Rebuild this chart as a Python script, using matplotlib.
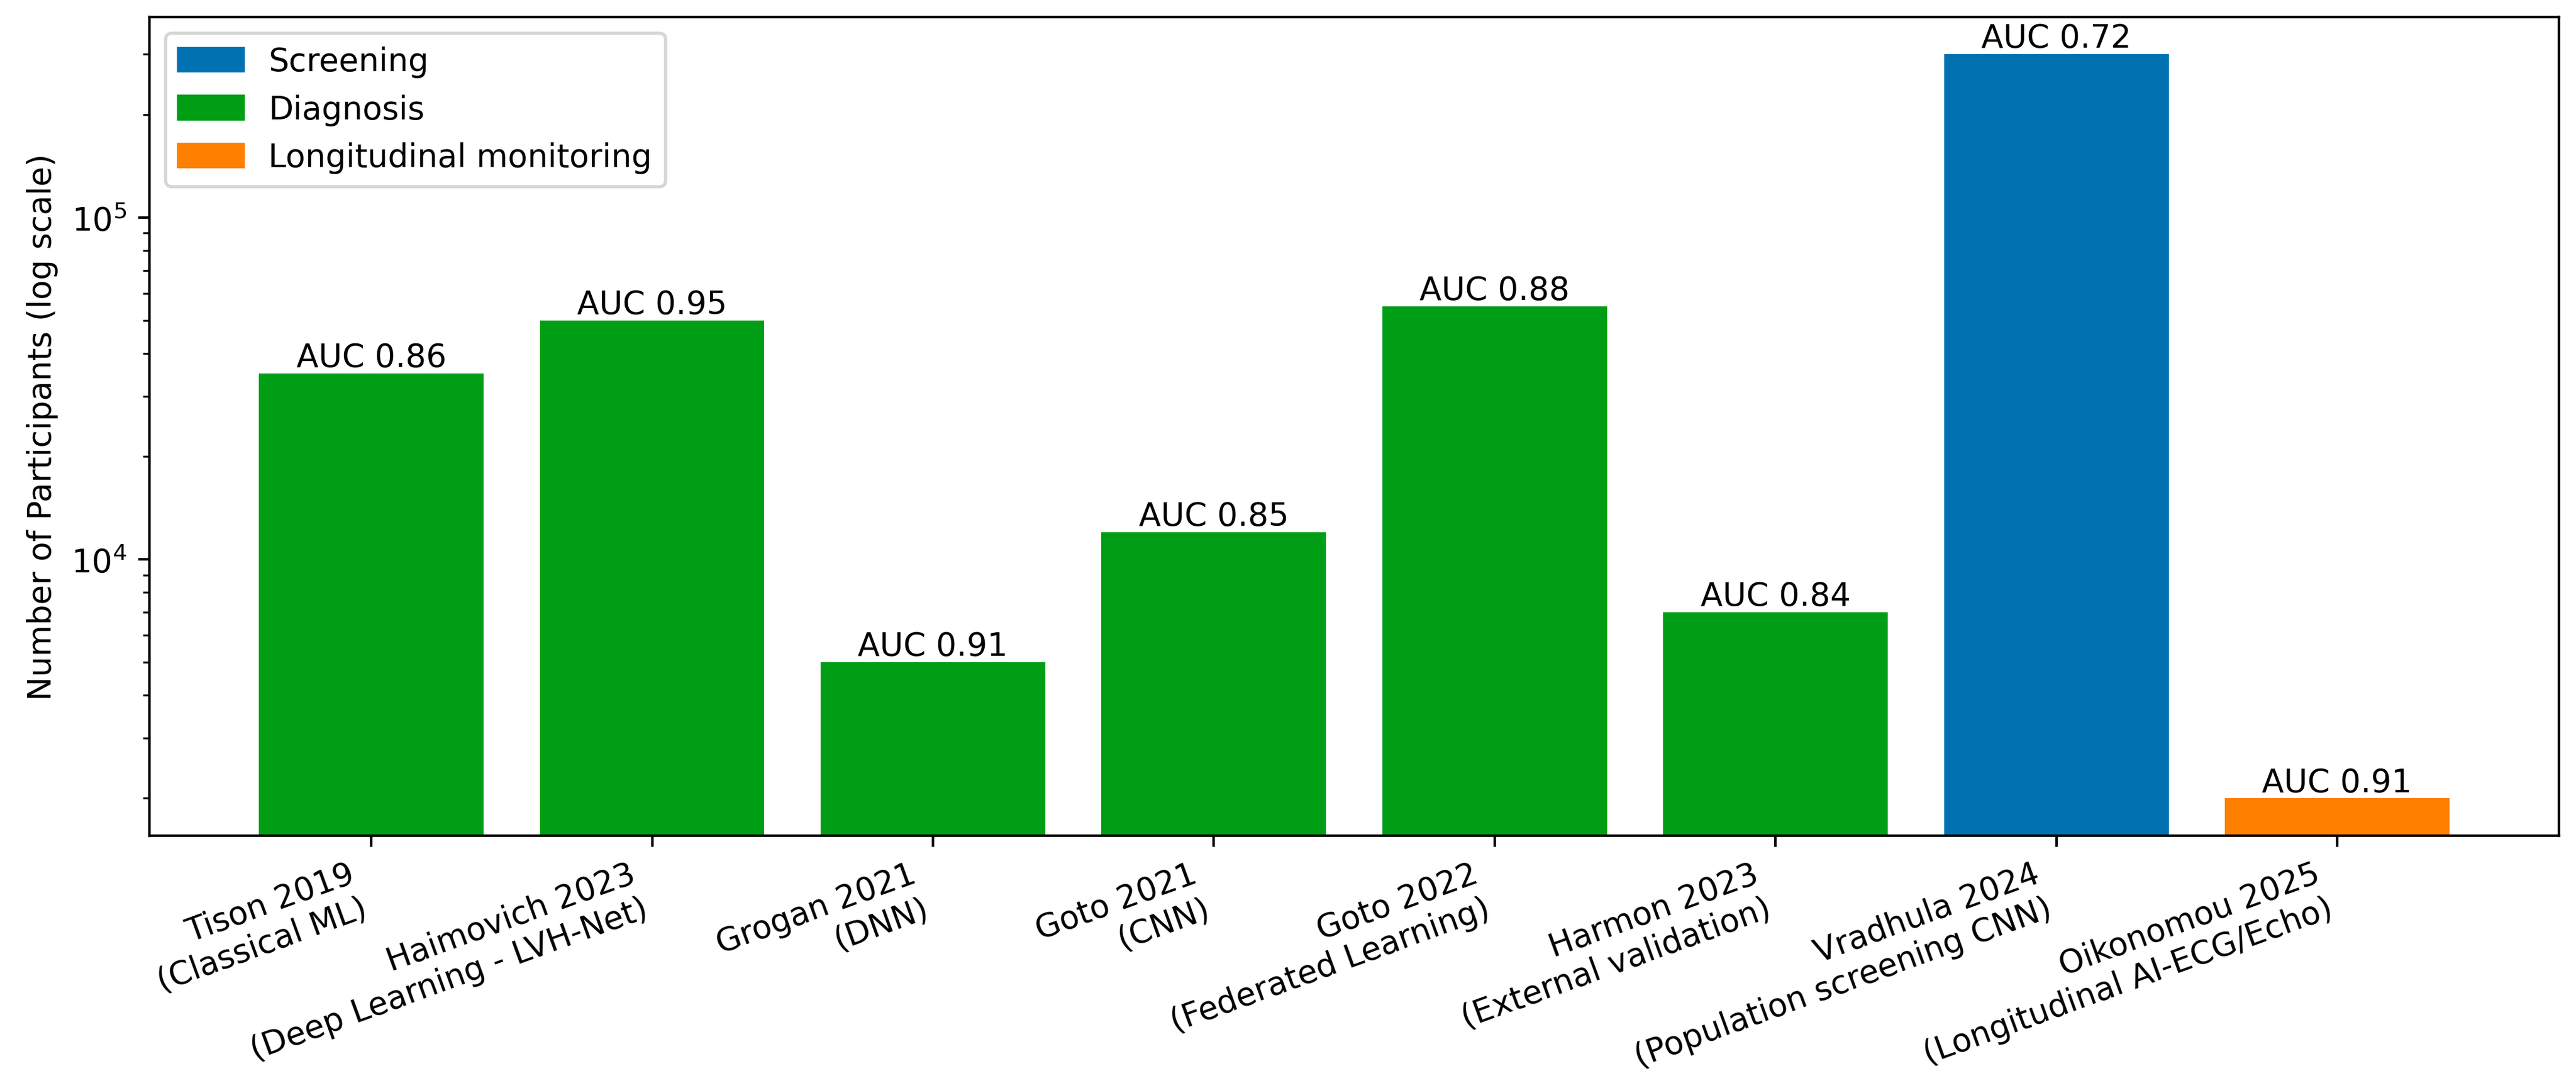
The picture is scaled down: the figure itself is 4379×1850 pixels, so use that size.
import matplotlib
matplotlib.use('Agg')
import matplotlib.pyplot as plt
from matplotlib.patches import Patch

# ---- data ----
studies = ['Tison 2019\n(Classical ML)',
           'Haimovich 2023\n(Deep Learning - LVH-Net)',
           'Grogan 2021\n(DNN)',
           'Goto 2021\n(CNN)',
           'Goto 2022\n(Federated Learning)',
           'Harmon 2023\n(External validation)',
           'Vradhula 2024\n(Population screening CNN)',
           'Oikonomou 2025\n(Longitudinal AI-ECG/Echo)']
participants = [35000, 50000, 5000, 12000, 55000, 7000, 300000, 2000]
auc = [0.86, 0.95, 0.91, 0.85, 0.88, 0.84, 0.72, 0.91]
use_case = ['Diagnosis', 'Diagnosis', 'Diagnosis', 'Diagnosis', 'Diagnosis',
            'Diagnosis', 'Screening', 'Longitudinal monitoring']

categories = ['Screening', 'Diagnosis', 'Longitudinal monitoring']
cat_colors = {'Screening': '#0072B2',
              'Diagnosis': '#009E15',
              'Longitudinal monitoring': '#FF7F00'}

dpi = 394
fig, ax = plt.subplots(figsize=(4379 / dpi, 1851 / dpi), dpi=dpi)
fig.subplots_adjust(left=0.058, right=0.9934, top=0.9838, bottom=0.232)

x = range(len(studies))
colors = [cat_colors[c] for c in use_case]
bars = ax.bar(x, participants, color=colors)
ax.set_yscale('log')

for b, a in zip(bars, auc):
    ax.text(b.get_x() + b.get_width() / 2, b.get_height(), f'AUC {a:.2f}',
            ha='center', va='bottom')

ax.set_xticks(list(x))
ax.set_xticklabels(studies, rotation=20, ha='right')
ax.set_ylabel('Number of Participants (log scale)')

handles = [Patch(color=cat_colors[c], label=c) for c in categories]
ax.legend(handles=handles, loc='upper left')

fig.savefig('out.png', dpi=dpi, facecolor='white')
plt.close(fig)
